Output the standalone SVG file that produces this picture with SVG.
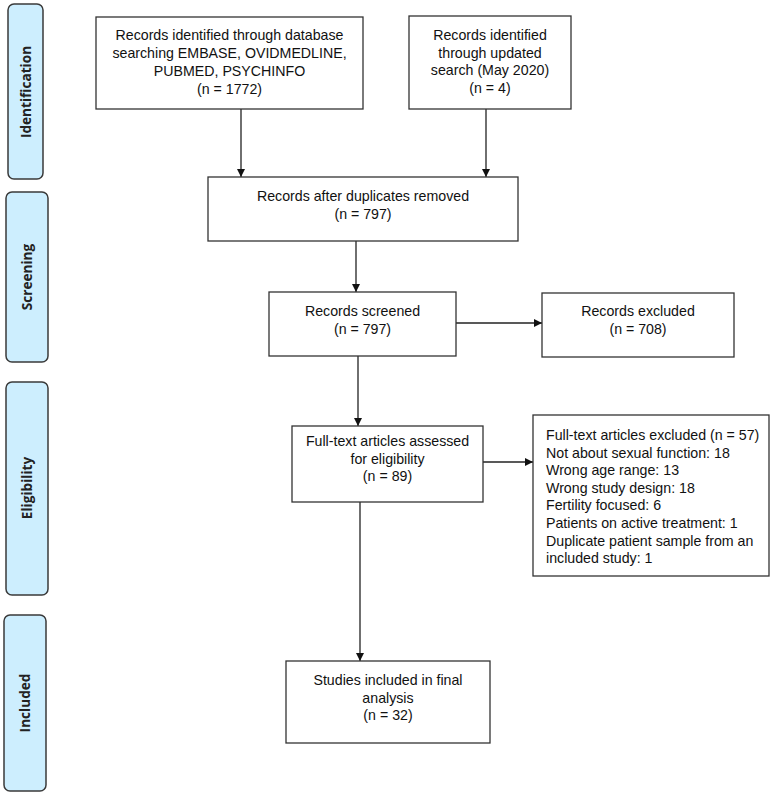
<svg xmlns="http://www.w3.org/2000/svg" width="772" height="795" viewBox="0 0 772 795">
<style>
.box{fill:#fff;stroke:#333;stroke-width:1.3}
.side{fill:#cdeefe;stroke:#3a3a3a;stroke-width:1.5}
.t{font-family:"Liberation Sans",Arial,sans-serif;font-size:14.2px;fill:#111}
.c{text-anchor:middle}
.s{font-family:"Open Sans","Liberation Sans",sans-serif;font-weight:bold;font-size:13.6px;fill:#222;text-anchor:middle}
.ln{stroke:#222;stroke-width:1.3;fill:none;marker-end:url(#ah)}
</style>
<defs>
<marker id="ah" viewBox="0 0 10 10" refX="10" refY="5" markerWidth="8" markerHeight="8" markerUnits="userSpaceOnUse" orient="auto">
<path d="M0,0 L10,5 L0,10 z" fill="#111"/>
</marker>
</defs>
<rect width="772" height="795" fill="#fff"/>
<g id="side-identification"><rect class="side" x="8" y="4" width="35" height="175" rx="6"/><text class="s" transform="translate(31,92) rotate(-90)">Identification</text></g>
<g id="side-screening"><rect class="side" x="6" y="192" width="42" height="170" rx="6"/><text class="s" transform="translate(32,277) rotate(-90)">Screening</text></g>
<g id="side-eligibility"><rect class="side" x="6" y="382" width="42" height="213" rx="6"/><text class="s" transform="translate(32,488) rotate(-90)">Eligibility</text></g>
<g id="side-included"><rect class="side" x="4" y="615" width="42" height="176" rx="6"/><text class="s" transform="translate(30,703) rotate(-90)">Included</text></g>

<g id="connectors">
<line class="ln" x1="241" y1="109" x2="241" y2="177"/>
<line class="ln" x1="486" y1="109" x2="486" y2="177"/>
<line class="ln" x1="356" y1="241" x2="356" y2="292"/>
<line class="ln" x1="456" y1="323" x2="542" y2="323"/>
<line class="ln" x1="358" y1="356" x2="358" y2="426"/>
<line class="ln" x1="483" y1="462" x2="533" y2="462"/>
<line class="ln" x1="360" y1="502" x2="360" y2="661"/>
</g>

<g id="n1"><rect class="box" x="96" y="17" width="267" height="92"/>
<text class="t c" x="229.5" y="40">Records identified through database</text>
<text class="t c" x="229.5" y="58">searching EMBASE, OVIDMEDLINE,</text>
<text class="t c" x="229.5" y="76">PUBMED, PSYCHINFO</text>
<text class="t c" x="229.5" y="94">(n = 1772)</text></g>

<g id="n2"><rect class="box" x="409" y="16" width="162" height="93"/>
<text class="t c" x="490" y="40">Records identified</text>
<text class="t c" x="490" y="58">through updated</text>
<text class="t c" x="490" y="75">search (May 2020)</text>
<text class="t c" x="490" y="93">(n = 4)</text></g>

<g id="n3"><rect class="box" x="208" y="177" width="310" height="64"/>
<text class="t c" x="363" y="201">Records after duplicates removed</text>
<text class="t c" x="363" y="219">(n = 797)</text></g>

<g id="n4"><rect class="box" x="269" y="292" width="187" height="64"/>
<text class="t c" x="362.5" y="316">Records screened</text>
<text class="t c" x="362.5" y="334">(n = 797)</text></g>

<g id="n5"><rect class="box" x="542" y="293" width="192" height="64"/>
<text class="t c" x="638" y="316">Records excluded</text>
<text class="t c" x="638" y="334">(n = 708)</text></g>

<g id="n6"><rect class="box" x="292" y="426" width="191" height="76"/>
<text class="t c" x="387.5" y="446">Full-text articles assessed</text>
<text class="t c" x="387.5" y="464">for eligibility</text>
<text class="t c" x="387.5" y="481">(n = 89)</text></g>

<g id="n7"><rect class="box" x="533" y="415" width="236" height="161"/>
<text class="t" x="546" y="440">Full-text articles excluded (n = 57)</text>
<text class="t" x="546" y="457.6">Not about sexual function: 18</text>
<text class="t" x="546" y="475.2">Wrong age range: 13</text>
<text class="t" x="546" y="492.8">Wrong study design: 18</text>
<text class="t" x="546" y="510.4">Fertility focused: 6</text>
<text class="t" x="546" y="528">Patients on active treatment: 1</text>
<text class="t" x="546" y="545.6">Duplicate patient sample from an</text>
<text class="t" x="546" y="563.2">included study: 1</text></g>

<g id="n8"><rect class="box" x="286" y="661" width="204" height="82"/>
<text class="t c" x="388" y="685">Studies included in final</text>
<text class="t c" x="388" y="703">analysis</text>
<text class="t c" x="388" y="720">(n = 32)</text></g>
</svg>
